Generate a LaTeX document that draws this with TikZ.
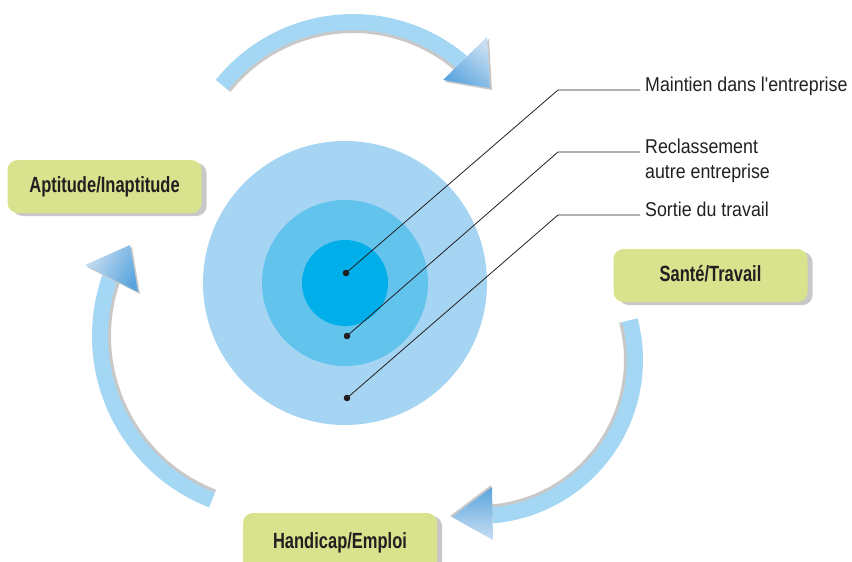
\documentclass[tikz,border=0pt]{standalone}
\usepackage{fontspec}
\newfontfamily\lblfont[FakeStretch=0.89]{Liberation Sans}
\newfontfamily\boxfont[FakeStretch=0.75]{Liberation Sans}
\usetikzlibrary{shadows}
\definecolor{outerblue}{HTML}{A5D5F3}
\definecolor{midblue}{HTML}{62C3ED}
\definecolor{innerblue}{HTML}{00AEEA}
\definecolor{bandblue}{HTML}{A4D7F4}
\definecolor{headlight}{HTML}{C8DEF2}
\definecolor{headdark}{HTML}{5AA5DE}
\definecolor{boxgreen}{HTML}{D9E38E}
\definecolor{shadowgray}{HTML}{C8C8C8}
\definecolor{ink}{HTML}{231F20}
\begin{document}
\begin{tikzpicture}[x=1pt,y=-1pt,
  disc/.style={circle,inner sep=0pt,draw=none},
  box/.style={rounded corners=10pt,fill=boxgreen,inner sep=0pt,
    minimum width=194pt,minimum height=53pt,text height=16pt,text depth=4pt,
    font=\boxfont\bfseries\fontsize{22}{26}\selectfont,text=ink,
    drop shadow={shadow xshift=5pt,shadow yshift=-3pt,fill=shadowgray,opacity=1}},
  band/.style={line width=16pt,draw=bandblue,line cap=butt},
  bandshadow/.style={line width=4pt,draw=shadowgray,line cap=butt},
  leader/.style={draw=ink,line width=0.8pt},
  dotmark/.style={fill=ink},
  lbl/.style={anchor=base west,inner sep=0pt,text=ink,font=\lblfont\fontsize{20}{24}\selectfont},
  headshadow/.style={fill=shadowgray},
]
\useasboundingbox (0,0) rectangle (852,562);

% concentric discs
\node[disc,fill=outerblue,minimum size=284pt] (outer) at (345,283) {};
\node[disc,fill=midblue,minimum size=166pt] (middle) at (345,283) {};
\node[disc,fill=innerblue,minimum size=86pt] (inner) at (345,283) {};

% dots
\coordinate (d1) at (346,273);
\coordinate (d2) at (347,336);
\coordinate (d3) at (347,398);
\coordinate (k1) at (558,90);
\coordinate (k2) at (558,152);
\coordinate (k3) at (558,215);
\coordinate (e1) at (640,90);
\coordinate (e2) at (640,152);
\coordinate (e3) at (640,215);
\draw[leader] (d1) -- (k1) -- (e1);
\draw[leader] (d2) -- (k2) -- (e2);
\draw[leader] (d3) -- (k3) -- (e3);
\fill[dotmark] (d1) circle[radius=3.3];
\fill[dotmark] (d2) circle[radius=3.3];
\fill[dotmark] (d3) circle[radius=3.3];

\node[lbl] (l1) at (645,91.5) {Maintien dans l'entreprise};
\node[lbl] (l2a) at (645,153) {Reclassement};
\node[lbl] (l2b) at (645,178) {autre entreprise};
\node[lbl] (l3) at (645,216.5) {Sortie du travail};

% top curved arrow
\draw[bandshadow] (353,190) ++(-141.3:159) arc[start angle=-141.3,end angle=-49.6,radius=159];
\draw[band] (353,190) ++(-141.3:168) arc[start angle=-141.3,end angle=-49.6,radius=168];
\fill[headshadow] (445,82) -- (489,39) -- (492,90) -- cycle;
\shade[left color=headlight,right color=headdark,shading angle=-40] (443,80) -- (487,37) -- (490,88) -- cycle;

% right curved arrow
\draw[bandshadow] (479,360) ++(-14.8:147) arc[start angle=-14.8,end angle=85.1,radius=147];
\draw[band] (479,360) ++(-14.8:156) arc[start angle=-14.8,end angle=85.1,radius=156];
\fill[headshadow] (450,516) -- (491,485) -- (492,539) -- cycle;
\shade[left color=headlight,right color=headdark,shading angle=180] (452,517) -- (492,487) -- (493,540) -- cycle;

% left curved arrow
\draw[bandshadow] (276,336) ++(111.3:167) arc[start angle=111.3,end angle=199.4,radius=167];
\draw[band] (276,336) ++(111.3:176) arc[start angle=111.3,end angle=199.4,radius=176];
\fill[headshadow] (87,267) -- (132,247) -- (140,294) -- cycle;
\shade[left color=headlight,right color=headdark,shading angle=60] (85,265) -- (130,245) -- (138,292) -- cycle;

% boxes
\node[box] (apt) at (104.5,186.5) {Aptitude/Inaptitude};
\node[box] (sante) at (710.5,275.5) {Santé/Travail};
\node[box,minimum height=58pt] (handi) at (340,542) {Handicap/Emploi};
\end{tikzpicture}
\end{document}
